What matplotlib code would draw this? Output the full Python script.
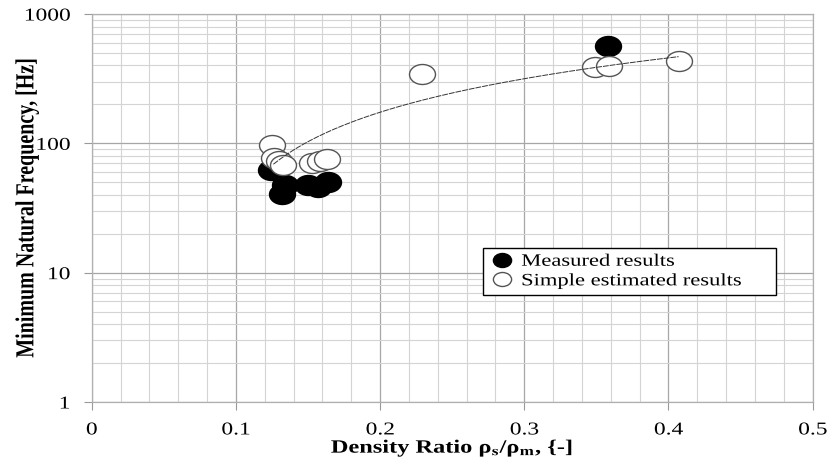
import numpy as np
import matplotlib
matplotlib.use("Agg")
import matplotlib.pyplot as plt
from matplotlib.path import Path
from matplotlib.transforms import Affine2D
from matplotlib.patheffects import AbstractPathEffect
from matplotlib.ticker import MultipleLocator, LogLocator, FixedFormatter, FixedLocator

# measured natural frequencies
meas_x = [0.1246, 0.132, 0.134, 0.150, 0.157, 0.164, 0.358]
meas_y = [62, 40.6, 47.5, 47.6, 46, 50.6, 566]

# simple estimated natural frequencies
est_x = [0.1253, 0.1266, 0.130, 0.1329, 0.1526, 0.1583, 0.1634, 0.229, 0.349, 0.3587, 0.4073]
est_y = [97, 77, 73.5, 68, 71, 73.5, 76, 344, 388, 397, 436]

# linear trend line (drawn on log axis)
trend_slope = 1420.0
trend_intercept = -110.0
trend_range = (0.126, 0.407)

x_ticks = [0, 0.1, 0.2, 0.3, 0.4, 0.5]
y_ticks = [1, 10, 100, 1000]

STRETCH = 1.3  # the source picture is stretched sideways


class HStretch(AbstractPathEffect):
    """Widen text horizontally around an anchor (0 left, 0.5 centre, 1 right)."""

    def __init__(self, sx, anchor=0.5):
        super().__init__()
        self.sx = sx
        self.anchor = anchor

    def draw_path(self, renderer, gc, tpath, affine, rgbFace=None):
        ext = tpath.transformed(affine).get_extents()
        x0 = ext.x0 + self.anchor * ext.width
        aff = affine + Affine2D().translate(-x0, 0).scale(self.sx, 1).translate(x0, 0)
        renderer.draw_path(gc, tpath, aff, rgbFace)


plt.rcParams["font.family"] = ["Liberation Serif", "DejaVu Serif"]
plt.rcParams["mathtext.fontset"] = "stix"

ellipse = Path.unit_circle().transformed(Affine2D().scale(STRETCH, 1.0))

fig = plt.figure(figsize=(8.27, 4.59), dpi=100)
ax = fig.add_axes([0.1109, 0.1242, 0.8718, 0.8453])
ax.set_yscale("log")
ax.set_xlim(0, 0.5)
ax.set_ylim(1, 1000)

ax.xaxis.set_major_locator(FixedLocator(x_ticks))
ax.xaxis.set_major_formatter(FixedFormatter([str(v) for v in x_ticks]))
ax.xaxis.set_minor_locator(MultipleLocator(0.02))
ax.yaxis.set_major_locator(FixedLocator(y_ticks))
ax.yaxis.set_major_formatter(FixedFormatter([str(v) for v in y_ticks]))
ax.yaxis.set_minor_locator(LogLocator(base=10, subs=np.arange(2, 10)))

ax.grid(which="major", color="#a6a6a6", linewidth=0.9)
ax.grid(which="minor", color="#d4d4d4", linewidth=0.8)
ax.set_axisbelow(True)
ax.tick_params(which="major", direction="out", length=6, color="#999999", labelsize=13)
ax.tick_params(axis="x", pad=8)
ax.tick_params(axis="y", pad=9.5)
ax.tick_params(which="minor", length=0)
for s in ax.spines.values():
    s.set_color("#b0b0b0")
    s.set_linewidth(0.9)

tx = np.linspace(trend_range[0], trend_range[1], 200)
ax.plot(tx, trend_slope * tx + trend_intercept, color="#333333", linewidth=0.7,
        linestyle=(0, (6, 1)), zorder=4)

ax.plot(meas_x, meas_y, linestyle="none", marker=ellipse, markersize=18.7,
        markerfacecolor="black", markeredgecolor="black", markeredgewidth=1,
        label="Measured results", zorder=3)
ax.plot(est_x, est_y, linestyle="none", marker=ellipse, markersize=18.7,
        markerfacecolor="white", markeredgecolor="#555555", markeredgewidth=1,
        label="Simple estimated results", zorder=3)

leg = ax.legend(loc="upper left", bbox_to_anchor=(0.543, 0.267, 0.406, 0.129),
                mode="expand", fontsize=12.5, markerscale=0.7, frameon=True,
                fancybox=False, framealpha=1, edgecolor="black", borderpad=0.3,
                labelspacing=0.2, handlelength=1.6, handletextpad=0.3,
                borderaxespad=0)
leg.get_frame().set_linewidth(1.0)
for t in leg.get_texts():
    t.set_path_effects([HStretch(STRETCH, 0.0)])

xl = ax.set_xlabel(r"Density Ratio ρ$_\mathbf{s}$/ρ$_\mathbf{m}$, {-]", fontsize=13.5,
                   fontweight="bold", labelpad=-0.5)
xl.set_path_effects([HStretch(STRETCH, 0.5)])
yl = ax.set_ylabel("Minimum Natural Frequency, [Hz]", fontsize=14.4, fontweight="bold")
ax.yaxis.set_label_coords(-0.076, 0.5)
yl.set_path_effects([HStretch(STRETCH, 0.5)])

fig.canvas.draw()
for t in ax.xaxis.get_major_ticks():
    t.label1.set_path_effects([HStretch(STRETCH, 0.5)])
for t in ax.yaxis.get_major_ticks():
    t.label1.set_path_effects([HStretch(STRETCH, 1.0)])

fig.savefig("out.png", dpi=100)
